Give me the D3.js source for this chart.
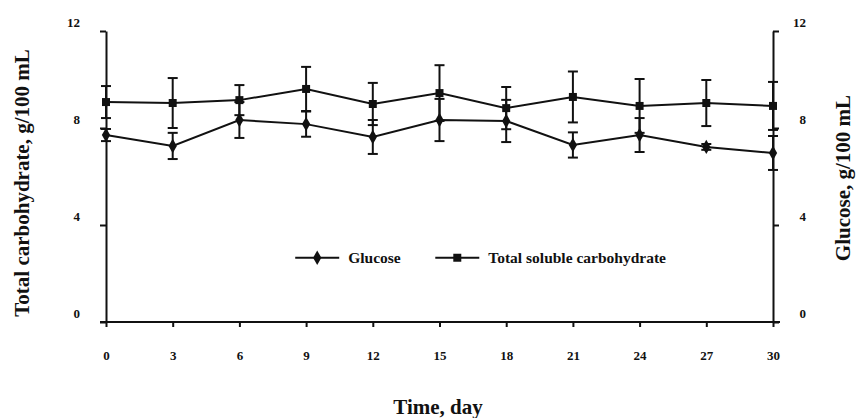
<!DOCTYPE html>
<html>
<head>
<meta charset="utf-8">
<script src="https://cdn.jsdelivr.net/npm/d3@7"></script>
<style>
  body { margin: 0; background: #fff; }
  text { font-family: "Liberation Serif", "Times New Roman", serif; font-weight: bold; fill: #111; }
</style>
</head>
<body>
<svg id="chart" width="858" height="418"></svg>
<script>
// data
const days = [0, 3, 6, 9, 12, 15, 18, 21, 24, 27, 30];
const totalCarb = [9.07, 9.03, 9.15, 9.61, 8.99, 9.44, 8.82, 9.28, 8.91, 9.03, 8.91];
const totalCarbErr = [0.66, 1.03, 0.62, 0.91, 0.87, 1.15, 0.87, 1.05, 1.11, 0.95, 0.99];
const glucose = [7.71, 7.26, 8.33, 8.16, 7.63, 8.33, 8.29, 7.30, 7.71, 7.22, 6.97];
const glucoseErr = [0.25, 0.54, 0.74, 0.52, 0.70, 0.87, 0.87, 0.52, 0.70, 0.12, 0.70];
const yTicks = [0, 4, 8, 12];

const svg = d3.select('#chart');
const margin = { top: 31, right: 85, bottom: 96, left: 106 };
const width = +svg.attr('width');
const height = +svg.attr('height');
const ink = '#111';

const x = d3.scaleLinear().domain([0, 30]).range([margin.left, width - margin.right]);
const y = d3.scaleLinear().domain([0, 12]).range([height - margin.bottom, margin.top]);

// x axis line runs a little past both y axes
svg.append('line')
    .attr('x1', x(0) - 6).attr('x2', x(30) + 7)
    .attr('y1', y(0)).attr('y2', y(0))
    .attr('stroke', ink).attr('stroke-width', 2);

const xAxis = svg.append('g')
    .attr('transform', `translate(0,${y(0)})`)
    .call(d3.axisBottom(x).tickValues(days).tickSize(5).tickSizeOuter(0).tickPadding(24));
xAxis.select('.domain').remove();

const labelShift = -9;

const yLeft = svg.append('g')
    .attr('transform', `translate(${x(0)},0)`)
    .call(d3.axisLeft(y).tickValues(yTicks).tickSize(6).tickSizeOuter(0).tickPadding(20));
yLeft.selectAll('.tick text').attr('transform', `translate(0,${labelShift})`);

// right labels are right-aligned as well
const yRight = svg.append('g')
    .attr('transform', `translate(${x(30)},0)`)
    .call(d3.axisRight(y).tickValues(yTicks).tickSize(6).tickSizeOuter(0).tickPadding(27));
yRight.selectAll('.tick text')
    .attr('text-anchor', 'end')
    .attr('transform', `translate(0,${labelShift})`);

svg.selectAll('.domain, .tick line').attr('stroke', ink).attr('stroke-width', 2);
svg.selectAll('.tick text').attr('font-size', 13).attr('font-family', null).attr('fill', ink);

// series
const series = [
    { name: 'Glucose', values: glucose, err: glucoseErr, shape: d3.symbolDiamond, size: 60 },
    { name: 'Total soluble carbohydrate', values: totalCarb, err: totalCarbErr, shape: d3.symbolSquare, size: 64 }
];

const line = d3.line().x(d => x(d.day)).y(d => y(d.v));
const capW = 5;

series.forEach(s => {
    const pts = days.map((d, i) => ({ day: d, v: s.values[i], e: s.err[i] }));

    const bars = svg.append('g').attr('stroke', ink).attr('stroke-width', 2);
    pts.forEach(p => {
        bars.append('line')
            .attr('x1', x(p.day)).attr('x2', x(p.day))
            .attr('y1', y(p.v - p.e)).attr('y2', y(p.v + p.e));
        [p.v - p.e, p.v + p.e].forEach(c => {
            bars.append('line')
                .attr('x1', x(p.day) - capW).attr('x2', x(p.day) + capW)
                .attr('y1', y(c)).attr('y2', y(c));
        });
    });

    svg.append('path')
        .datum(pts)
        .attr('d', line)
        .attr('fill', 'none')
        .attr('stroke', ink)
        .attr('stroke-width', 2);

    svg.append('g').selectAll('path')
        .data(pts)
        .join('path')
        .attr('transform', p => `translate(${x(p.day)},${y(p.v)})`)
        .attr('d', d3.symbol(s.shape, s.size))
        .attr('fill', ink);
});

// legend
const legendY = y(2.65);
const legendX = [x(9.5), x(15.8)];
series.forEach((s, i) => {
    const g = svg.append('g').attr('transform', `translate(${legendX[i]},${legendY})`);
    g.append('line').attr('x1', -22).attr('x2', 22).attr('stroke', ink).attr('stroke-width', 2);
    g.append('path').attr('d', d3.symbol(s.shape, s.size)).attr('fill', ink);
    g.append('text').attr('x', 31).attr('dy', '0.32em').attr('font-size', 15.5).text(s.name);
});

// axis titles
svg.append('text')
    .attr('x', 438)
    .attr('y', 414)
    .attr('text-anchor', 'middle')
    .attr('font-size', 21)
    .text('Time, day');

svg.append('text')
    .attr('transform', 'translate(29,183) rotate(-90)')
    .attr('text-anchor', 'middle')
    .attr('font-size', 21)
    .text('Total carbohydrate, g/100 mL');

svg.append('text')
    .attr('transform', 'translate(850,178) rotate(-90)')
    .attr('text-anchor', 'middle')
    .attr('font-size', 21)
    .text('Glucose, g/100 mL');
</script>
</body>
</html>
